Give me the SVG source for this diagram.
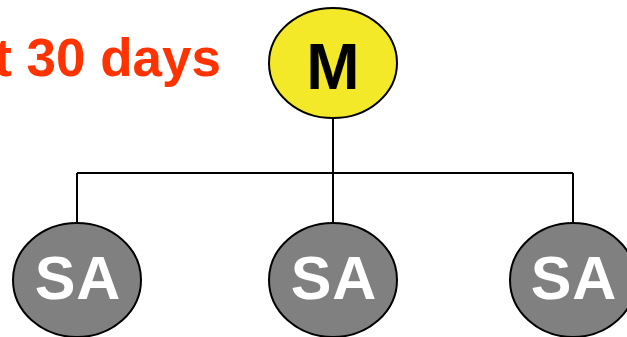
<svg xmlns="http://www.w3.org/2000/svg" width="627" height="337" viewBox="0 0 627 337">
<style>
.sa{fill:#808080;stroke:#000;stroke-width:2}
.sat{font-family:"Liberation Sans",Arial,sans-serif;font-weight:bold;font-size:61px;letter-spacing:1px;fill:#fff;text-anchor:middle}
.c{stroke:#000;stroke-width:2;fill:none}
</style>
<rect width="627" height="337" fill="#fff"/>
<text x="221" y="76" font-family="Liberation Sans, Arial, sans-serif" font-weight="bold" font-size="53" fill="#FF3300" text-anchor="end">t 30 days</text>
<g id="connectors">
<path class="c" d="M333 118V173M77 173H573M77 173V223M333 173V223M573 173V223"/>
</g>
<g id="M">
<ellipse cx="333" cy="63" rx="64" ry="55" fill="#F4E928" stroke="#000" stroke-width="2"/>
<text x="333" y="89" font-family="Liberation Sans, Arial, sans-serif" font-weight="bold" font-size="64" text-anchor="middle" fill="#000">M</text>
</g>
<g id="SA1">
<ellipse class="sa" cx="77" cy="280" rx="64" ry="57"/>
<text class="sat" x="78" y="299">SA</text>
</g>
<g id="SA2">
<ellipse class="sa" cx="333" cy="280" rx="64" ry="57"/>
<text class="sat" x="334" y="299">SA</text>
</g>
<g id="SA3">
<ellipse class="sa" cx="573" cy="280" rx="63" ry="57"/>
<text class="sat" x="574" y="299">SA</text>
</g>
</svg>
